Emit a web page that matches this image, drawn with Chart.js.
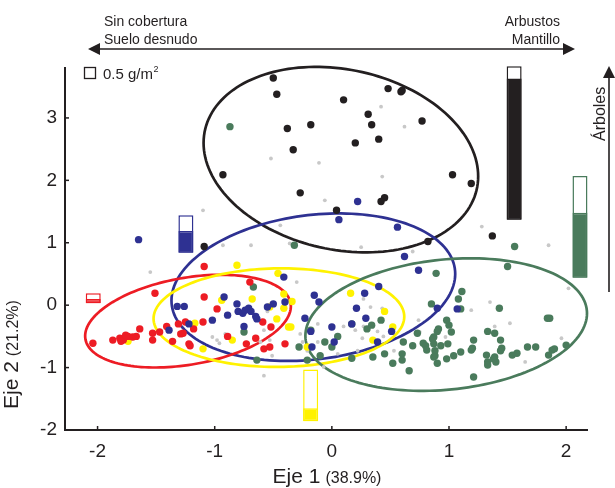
<!DOCTYPE html>
<html>
<head>
<meta charset="utf-8">
<script src="https://cdn.jsdelivr.net/npm/chart.js@4.4.0/dist/chart.umd.min.js"></script>
<style>
    html, body { margin: 0; padding: 0; background: #fff; }
    #wrap { width: 615px; height: 488px; }
</style>
</head>
<body>
<div id="wrap"><canvas id="chart" width="615" height="488"></canvas></div>
<script>
// ejes
const X_TICKS = [-2, -1, 0, 1, 2];
const Y_TICKS = [-2, -1, 0, 1, 2, 3];
const X_MIN = -2.278, X_MAX = 2.178;
const Y_MIN = -2, Y_MAX = 3.8;

// puntos por grupo [eje1, eje2]
const puntosNegro = [
    [-0.50, 3.64], [-0.47, 3.38], [0.10, 3.29], [0.48, 3.47], [0.59, 3.42], [0.60, 3.44],
    [0.31, 3.06], [0.34, 2.89], [0.77, 2.95], [-0.38, 2.83], [-0.18, 2.89], [0.20, 2.60],
    [0.40, 2.66], [-0.33, 2.49], [-0.93, 2.09], [1.03, 2.09], [1.19, 1.95], [-0.27, 1.80],
    [0.45, 1.72], [0.42, 1.66], [0.04, 1.52], [0.82, 1.02], [-1.09, 0.94], [1.37, 1.11]
];
const puntosAzul = [
    [0.22, 1.66], [0.06, 1.37], [0.56, 1.25], [0.62, 0.78], [0.74, 0.56], [-1.65, 1.05],
    [-1.32, -0.02], [-1.26, -0.02], [-1.39, -0.40], [-1.22, -0.30], [-0.92, 0.13], [-0.81, 0.02],
    [-1.02, -0.24], [-0.89, -0.16], [-0.80, -0.10], [-0.76, -0.13], [-0.74, -0.08], [-0.71, -0.05],
    [-0.69, -0.10], [-0.65, -0.18], [-0.64, -0.22], [-0.75, -0.34], [-0.55, -0.03], [-0.50, 0.02],
    [-0.41, 0.45], [-0.40, 0.05], [-0.15, 0.16], [-0.11, 0.05], [-0.23, -0.21], [-0.17, -0.67],
    [-0.18, -0.42], [0.00, -0.35], [0.02, -0.59], [0.17, -0.30], [0.21, -0.05], [0.28, 0.19],
    [0.29, -0.21], [0.40, 0.30], [0.51, -0.42], [0.39, -0.59], [0.90, -0.05], [1.07, -0.06]
];
const puntosRojo = [
    [-1.51, 0.19], [-1.09, 0.62], [-1.09, 0.13], [-0.70, 0.37], [-0.98, -0.06], [-2.04, -0.61],
    [-1.87, -0.56], [-1.81, -0.53], [-1.78, -0.56], [-1.74, -0.50], [-1.70, -0.51], [-1.67, -0.50],
    [-1.64, -0.38], [-1.53, -0.45], [-1.53, -0.56], [-1.47, -0.43], [-1.41, -0.34], [-1.36, -0.58],
    [-1.31, -0.30], [-1.25, -0.27], [-1.29, -0.46], [-1.27, -0.45], [-1.18, -0.38], [-1.22, -0.62],
    [-1.21, -0.65], [-1.10, -0.27], [-0.89, -0.50], [-0.73, -0.62], [-0.65, -0.53], [-0.59, -0.27],
    [-0.52, -0.35], [-0.58, -0.70], [-0.53, -0.67], [-0.40, -0.62], [-1.76, -0.48], [-1.80, -0.58]
];
const puntosAmarillo = [
    [-0.81, 0.64], [-0.46, 0.51], [-0.68, 0.10], [-0.94, 0.08], [-1.17, -0.29], [-0.41, 0.18],
    [-0.34, 0.06], [-0.53, -0.03], [-0.41, -0.05], [-0.47, -0.22], [-0.37, -0.35], [-0.35, -0.35],
    [-0.85, -0.56], [-1.10, -0.70], [-0.21, -0.67], [-1.74, -0.58], [0.16, 0.19], [0.45, -0.10],
    [0.52, -0.35], [0.35, -0.56]
];
const puntosVerde = [
    [-0.87, 2.86], [-0.32, 0.96], [-0.67, 0.29], [-0.75, -0.43], [-0.64, -0.88], [-0.28, -0.67],
    [-0.21, -0.88], [-0.18, -0.40], [-0.10, -0.81], [-0.06, -0.59], [0.00, -0.67], [0.05, -0.50],
    [0.17, -0.30], [0.17, -0.85], [0.30, -0.38], [0.34, -0.32], [0.42, -0.24], [0.35, -0.83],
    [0.45, -0.78], [0.52, -0.93], [0.60, -0.78], [0.60, -0.88], [0.61, -0.59], [0.69, -0.65],
    [0.73, -0.45], [0.66, -1.05], [0.78, -0.61], [0.80, -0.65], [0.86, -0.54], [0.87, -0.62],
    [0.87, -0.51], [0.90, -0.42], [0.91, -0.38], [0.81, -0.72], [0.88, -0.81], [0.90, -0.93],
    [0.89, 0.51], [0.85, 0.02], [0.98, -0.24], [1.00, -0.32], [1.02, -0.43], [0.99, -0.62],
    [0.98, -0.86], [1.04, -0.81], [1.10, -0.75], [1.11, 0.22], [1.08, 0.10], [1.10, -0.06],
    [1.21, -0.56], [1.20, -0.69], [1.19, -0.72], [1.33, -0.42], [1.39, -0.45], [1.44, -0.56],
    [1.45, -0.69], [1.44, -0.73], [1.32, -0.80], [1.33, -0.91], [1.33, -0.96], [1.39, -0.83],
    [1.40, -0.91], [1.38, -0.86], [1.21, -1.15], [1.43, -0.05], [1.50, 0.62], [1.56, 0.94],
    [1.54, -0.80], [1.58, -0.77], [1.67, -0.67], [1.74, -0.67], [1.84, -0.21], [1.86, -0.21],
    [1.85, -0.80], [1.88, -0.72], [1.90, -0.70], [2.00, -0.64], [0.93, -0.65], [0.88, -0.73],
    [0.87, -0.83]
];
const puntosGris = [
    [0.42, 3.18], [0.62, 2.86], [-0.52, 2.35], [-0.11, 2.28], [0.43, 2.06], [-0.06, 1.68],
    [-1.10, 1.52], [-0.44, 1.28], [-0.93, 0.96], [-0.69, 0.96], [-0.36, 0.99], [0.25, 0.93],
    [0.69, 0.86], [-1.55, 0.53], [-0.30, 0.37], [-0.55, -0.10], [-0.58, -0.40], [-0.91, -0.46],
    [-0.98, -0.56], [-0.96, -0.61], [-1.02, -0.51], [-0.61, -0.59], [-0.53, -0.56], [-0.58, -1.13],
    [-0.51, -0.81], [-0.27, -0.46], [-0.25, -0.59], [-0.21, -0.73], [-0.12, -0.30], [0.10, -0.34],
    [0.20, -0.40], [0.27, -0.34], [0.33, -0.03], [0.27, 0.10], [0.43, -0.05], [0.39, -0.42],
    [0.26, -0.53], [0.44, -0.50], [0.53, -0.73], [0.22, -0.73], [0.05, -0.78], [-0.07, -0.99],
    [0.74, -0.24], [0.75, -0.43], [-0.12, -0.59], [1.28, 1.26], [1.85, 0.96], [2.02, 0.27],
    [1.35, 0.05], [1.19, -0.08], [1.52, -0.29], [1.39, -0.34], [0.97, -0.51], [1.96, -0.53],
    [1.65, -0.91]
];

// elipses: negro, azul, rojo, amarillo, verde
const elipseCentro = [[0.077, 2.332], [-0.158, 0.288], [-1.228, -0.256], [-0.452, -0.20], [0.976, -0.311]];
const elipseRadio = [[1.172, 1.486], [1.211, 1.182], [0.878, 0.743], [1.07, 0.79], [1.202, 1.062]];
const elipseRho = [-0.18, 0.18, 0.32, 0.02, 0.17];

// barras de biomasa: negro, azul, rojo, amarillo, verde
const barraX = [1.556, -1.246, -2.037, -0.181, 2.118];
const barraBase = [1.37, 0.84, 0.03, -1.86, 0.44];
const barraLleno = [3.63, 1.19, 0.10, -1.65, 1.48];
const barraTope = [3.83, 1.44, 0.19, -1.03, 2.07];

const INK = '#231f20';
const COLORES = ['#231f20', '#2e3192', '#ed1c24', '#fff200', '#4a7b5c'];
const GRIS = '#c8c8c8';
const FUENTE = "'Liberation Sans', Arial, sans-serif";

function aPuntos(lista) {
    return lista.map(p => ({ x: p[0], y: p[1] }));
}

function trazarElipse(ctx, xs, ys, c, r, rho) {
    const n = 160;
    const q = Math.sqrt(1 - rho * rho);
    ctx.beginPath();
    for (let i = 0; i <= n; i++) {
        const t = i / n * Math.PI * 2;
        const vx = c[0] + r[0] * Math.cos(t);
        const vy = c[1] + r[1] * (rho * Math.cos(t) + q * Math.sin(t));
        const px = xs.getPixelForValue(vx);
        const py = ys.getPixelForValue(vy);
        if (i === 0) ctx.moveTo(px, py); else ctx.lineTo(px, py);
    }
    ctx.closePath();
    ctx.stroke();
}

function flecha(ctx, x, y, dx, dy) {
    // punta en (x, y), apuntando en la direccion (dx, dy)
    const largo = 12, ancho = 6;
    const nx = -dy, ny = dx;
    ctx.beginPath();
    ctx.moveTo(x, y);
    ctx.lineTo(x - dx * largo + nx * ancho, y - dy * largo + ny * ancho);
    ctx.lineTo(x - dx * largo - nx * ancho, y - dy * largo - ny * ancho);
    ctx.closePath();
    ctx.fill();
}

const anotaciones = {
    id: 'anotaciones',
    beforeDatasetsDraw(chart) {
        const ctx = chart.ctx;
        const xs = chart.scales.x, ys = chart.scales.y;
        ctx.save();
        ctx.lineWidth = 2.7;
        elipseCentro.forEach((c, i) => {
            ctx.strokeStyle = COLORES[i];
            trazarElipse(ctx, xs, ys, c, elipseRadio[i], elipseRho[i]);
        });
        ctx.restore();
    },
    afterDraw(chart) {
        const ctx = chart.ctx;
        const xs = chart.scales.x, ys = chart.scales.y;
        const area = chart.chartArea;
        ctx.save();
        ctx.strokeStyle = INK;
        ctx.fillStyle = INK;

        // marcas hacia dentro
        ctx.lineWidth = 1.5;
        X_TICKS.forEach(v => {
            const px = xs.getPixelForValue(v);
            ctx.beginPath();
            ctx.moveTo(px, area.bottom);
            ctx.lineTo(px, area.bottom - 4);
            ctx.stroke();
        });
        Y_TICKS.forEach(v => {
            const py = ys.getPixelForValue(v);
            ctx.beginPath();
            ctx.moveTo(area.left, py);
            ctx.lineTo(area.left + 4, py);
            ctx.stroke();
        });

        // titulo eje x
        ctx.textBaseline = 'alphabetic';
        ctx.textAlign = 'left';
        ctx.font = '21px ' + FUENTE;
        const w1 = ctx.measureText('Eje 1').width;
        ctx.font = '16px ' + FUENTE;
        const w2 = ctx.measureText('(38.9%)').width;
        let x0 = 327 - (w1 + 5 + w2) / 2;
        ctx.font = '21px ' + FUENTE;
        ctx.fillText('Eje 1', x0, 483);
        ctx.font = '16px ' + FUENTE;
        ctx.fillText('(38.9%)', x0 + w1 + 5, 483);

        // titulo eje y
        ctx.save();
        ctx.translate(18, 409);
        ctx.rotate(-Math.PI / 2);
        ctx.font = '21px ' + FUENTE;
        const w3 = ctx.measureText('Eje 2').width;
        ctx.fillText('Eje 2', 0, 0);
        ctx.font = '16px ' + FUENTE;
        ctx.fillText('(21.2%)', w3 + 5, 0);
        ctx.restore();

        // flecha superior
        ctx.lineWidth = 1.6;
        ctx.beginPath();
        ctx.moveTo(95, 49);
        ctx.lineTo(568, 49);
        ctx.stroke();
        flecha(ctx, 88, 49, -1, 0);
        flecha(ctx, 575, 49, 1, 0);
        ctx.font = '14px ' + FUENTE;
        ctx.textAlign = 'left';
        ctx.fillText('Sin cobertura', 104, 26);
        ctx.fillText('Suelo desnudo', 104, 44);
        ctx.textAlign = 'right';
        ctx.fillText('Arbustos', 560, 26);
        ctx.fillText('Mantillo', 560, 44);

        // flecha vertical
        ctx.beginPath();
        ctx.moveTo(609, 292);
        ctx.lineTo(609, 74);
        ctx.stroke();
        flecha(ctx, 609, 66, 0, -1);
        ctx.save();
        ctx.translate(605, 141);
        ctx.rotate(-Math.PI / 2);
        ctx.textAlign = 'left';
        ctx.font = '16px ' + FUENTE;
        ctx.fillText('Árboles', 0, 0);
        ctx.restore();

        // escala
        ctx.lineWidth = 1.3;
        ctx.strokeRect(84.5, 67.5, 11, 11);
        ctx.textAlign = 'left';
        ctx.font = '15px ' + FUENTE;
        ctx.fillText('0.5 g/m', 103, 79);
        const wg = ctx.measureText('0.5 g/m').width;
        ctx.font = '9px ' + FUENTE;
        ctx.fillText('2', 103 + wg + 0.5, 72);
        ctx.restore();
    }
};

const grupos = [puntosNegro, puntosAzul, puntosRojo, puntosAmarillo, puntosVerde];
const ordenGrupo = [3, 1, 2, 4, 5];

const datasets = [{
    label: 'otros',
    data: aPuntos(puntosGris),
    backgroundColor: GRIS,
    pointRadius: 1.9,
    pointBorderWidth: 0,
    order: 10,
    clip: false
}];

grupos.forEach((g, i) => {
    datasets.push({
        label: 'grupo ' + i,
        data: aPuntos(g),
        backgroundColor: COLORES[i],
        pointRadius: 3.7,
        pointBorderWidth: 0,
        order: ordenGrupo[i],
        clip: false
    });
});

datasets.push({
    type: 'bar',
    label: 'contorno',
    data: barraX.map((x, i) => ({ x: x, y: [barraBase[i], barraTope[i]] })),
    backgroundColor: '#ffffff',
    borderColor: COLORES,
    borderWidth: 1.5,
    borderSkipped: false,
    grouped: false,
    maxBarThickness: 15,
    order: 9,
    clip: false
});
datasets.push({
    type: 'bar',
    label: 'biomasa',
    data: barraX.map((x, i) => ({ x: x, y: [barraBase[i], barraLleno[i]] })),
    backgroundColor: COLORES,
    borderColor: COLORES,
    borderWidth: 1.5,
    borderSkipped: false,
    grouped: false,
    maxBarThickness: 15,
    order: 8,
    clip: false
});

new Chart(document.getElementById('chart'), {
    type: 'scatter',
    data: { datasets: datasets },
    options: {
        responsive: false,
        animation: false,
        devicePixelRatio: 1,
        layout: { padding: { top: 68, right: 28, left: 0, bottom: 0 } },
        plugins: { legend: { display: false }, tooltip: { enabled: false } },
        scales: {
            x: {
                type: 'linear',
                min: X_MIN,
                max: X_MAX,
                offset: false,
                afterBuildTicks: s => { s.ticks = X_TICKS.map(v => ({ value: v })); },
                afterFit: s => { s.height = 58; },
                grid: { display: false, drawTicks: false, offset: false },
                border: { display: true, color: INK, width: 2 },
                ticks: { color: INK, padding: 10, font: { family: FUENTE, size: 19 }, callback: v => String(v) }
            },
            y: {
                type: 'linear',
                min: Y_MIN,
                max: Y_MAX,
                beginAtZero: false,
                afterBuildTicks: s => { s.ticks = Y_TICKS.map(v => ({ value: v })); },
                afterFit: s => { s.width = 65; },
                grid: { display: false, drawTicks: false },
                border: { display: true, color: INK, width: 2 },
                ticks: { color: INK, padding: 8, font: { family: FUENTE, size: 19 }, callback: v => String(v) }
            }
        }
    },
    plugins: [anotaciones]
});
</script>
</body>
</html>
